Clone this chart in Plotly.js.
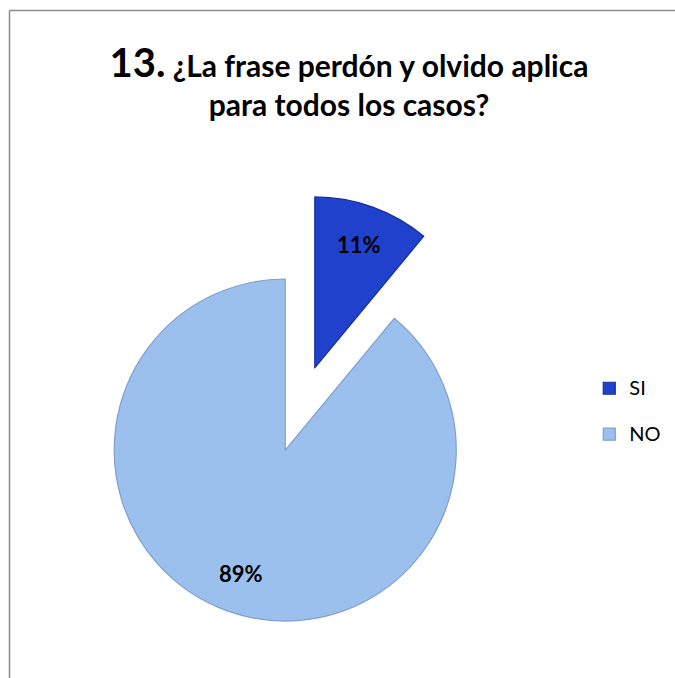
<!DOCTYPE html>
<html>
<head>
<meta charset="utf-8">
<script src="https://cdn.plot.ly/plotly-3.0.1.min.js"></script>
<style>
html,body{margin:0;padding:0;background:#fff;}
#chart{width:675px;height:678px;}
</style>
</head>
<body>
<div id="chart"></div>
<script>
// Data
var categories = ['SI', 'NO'];
var values = [11, 89];
var sliceColors = ['#1f41cc', '#9cc0ee'];
var titleNumber = '13.';
var titleLine1 = '¿La frase perdón y olvido aplica';
var titleLine2 = 'para todos los casos?';

var W = 675, H = 678;
var pullAmt = 0.255;
var dom = { x: [0.1265, 0.7624], y: [0.0802, 0.7133] };

// percent labels placed along each slice's mid angle (computed from the data)
var total = values.reduce(function (a, b) { return a + b; }, 0);
var cx = (dom.x[0] + dom.x[1]) / 2 * W;
var cy = (1 - (dom.y[0] + dom.y[1]) / 2) * H;
var rad = Math.min((dom.x[1] - dom.x[0]) * W, (dom.y[1] - dom.y[0]) * H) / (2 + 2 * pullAmt);
var cum = 0;
var labelAnnotations = values.map(function (v) {
  var mid = (cum + v / 2) / total * 2 * Math.PI; // clockwise from 12 o'clock
  cum += v;
  var dx = Math.sin(mid), dy = -Math.cos(mid);
  var k = pullAmt + 0.77;
  return {
    xref: 'paper', yref: 'paper',
    x: (cx + dx * k * rad) / W,
    y: 1 - (cy + dy * k * rad) / H,
    text: Math.round(v / total * 100) + '%',
    showarrow: false,
    xanchor: 'center', yanchor: 'middle',
    font: { family: 'Lato, sans-serif', size: 22, color: '#000', weight: 'bold' }
  };
});

var trace = {
  type: 'pie',
  labels: categories.map(function (c) { return '<span style="font-size:20px">' + c + '</span><br>&nbsp;'; }),
  values: values,
  sort: false,
  direction: 'clockwise',
  rotation: 0,
  pull: [pullAmt, pullAmt],
  marker: {
    colors: sliceColors,
    line: { color: ['#18309a', '#7f9fcf'], width: 1.2 }
  },
  textinfo: 'none',
  hoverinfo: 'label+percent',
  domain: dom
};

var layout = {
  width: W,
  height: H,
  margin: { l: 0, r: 0, t: 0, b: 0 },
  paper_bgcolor: '#ffffff',
  title: {
    text: '<span style="font-size:40px">' + titleNumber + '</span> ' + titleLine1 + '<br>' + titleLine2,
    font: { family: 'Lato, sans-serif', size: 30, color: '#000', weight: 'bold' },
    x: 0.517,
    xanchor: 'center',
    xref: 'paper',
    yref: 'container',
    y: 1 - 77 / 678,
    yanchor: 'top'
  },
  showlegend: true,
  legend: {
    x: 0.873,
    xanchor: 'left',
    y: 1 - 371 / 678,
    yanchor: 'top',
    valign: 'top',
    font: { family: 'Lato, sans-serif', size: 16.5, color: '#000' },
    bgcolor: 'rgba(0,0,0,0)'
  },
  annotations: labelAnnotations,
  shapes: [
    { type: 'line', xref: 'paper', yref: 'paper', x0: 9.5 / 675, x1: 9.5 / 675, y0: 0, y1: 1 - 10.5 / 678, line: { color: '#8c8c8c', width: 1.5 } },
    { type: 'line', xref: 'paper', yref: 'paper', x0: 9.5 / 675, x1: 1, y0: 1 - 10.5 / 678, y1: 1 - 10.5 / 678, line: { color: '#8c8c8c', width: 1.5 } }
  ]
};

Plotly.newPlot('chart', [trace], layout, { displayModeBar: false, staticPlot: true });
</script>
</body>
</html>
